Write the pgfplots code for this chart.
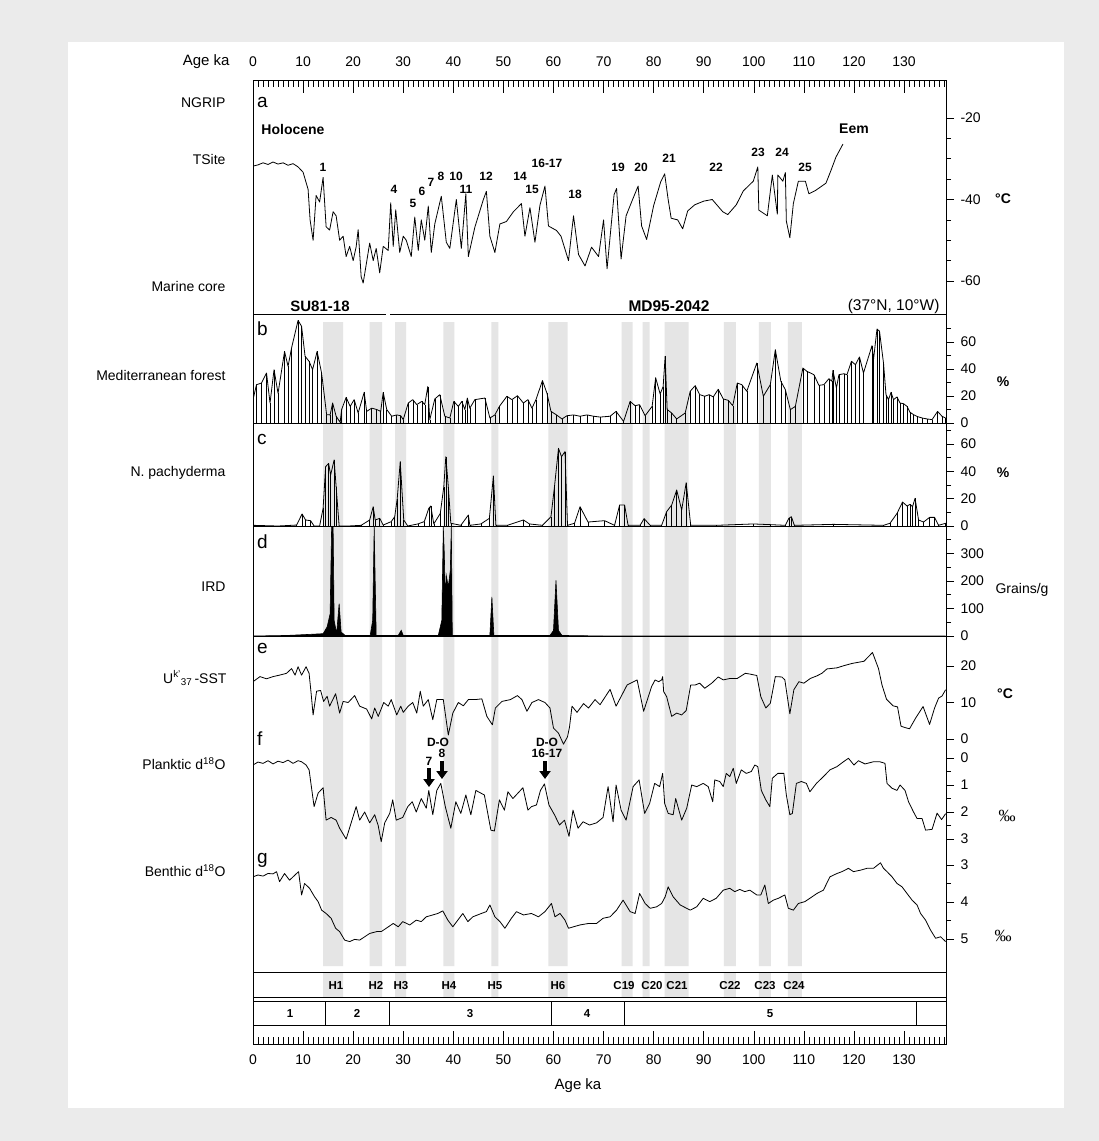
\documentclass[border=0pt]{standalone}
\usepackage{fontspec}
\setmainfont{Liberation Sans}
\newfontfamily\serif{Liberation Serif}
\usepackage{pgfplots}
\usepackage{pgfplotstable}
\pgfplotsset{compat=1.18}
\usetikzlibrary{arrows.meta}

\definecolor{outer}{RGB}{235,235,235}
\definecolor{band}{RGB}{229,229,229}
\newcommand{\fs}[1]{\fontsize{#1}{#1}\selectfont}

% b: Mediterranean forest (%)
\pgfplotstableread{
age v
0 17.3
0.7 28.4
1.7 29.6
2.7 37
3.4 14.8
4.2 39.5
5 22
6.3 53
7 42
7.7 55.6
9 76
9.7 71.6
10.4 49.4
11.2 45.7
11.9 39.5
12.8 53
13.7 37
14.7 6.2
15.4 6
15.9 14.8
16.6 5
17.4 0.5
17.7 10
18.6 19
19.4 12.3
20.2 17.3
21 7.4
22.2 22.7
22.7 8.6
23.7 11
24.7 10
25.5 8.6
26 22.7
26.7 10
27.7 5
28.7 6
29.5 5.4
30 2.5
31 14.8
31.9 17.3
32.7 13.6
33.7 16
34.3 13.6
34.9 27
35.3 2.5
36.3 17.8
37.3 21
38.3 5
39.3 3.7
40.1 16
41 12.3
41.7 16
42.3 10
42.8 18.5
43.3 11
44.3 17.3
46.3 18.5
47.3 3.7
48.3 6
49.2 12.3
50.7 19.8
51.7 17.3
52.8 20.2
54 14.8
54.9 17.3
55.7 11
56.5 17.3
57.8 31.4
58.7 22
59.5 8.6
60.6 6
61.7 3
62.7 5.4
64 6
65.3 5
66.7 6
68 5
69.3 4.4
71.3 5
72.5 8.6
74 1.2
75.3 16
76.3 12.8
77.2 13.6
78.3 5.4
79.7 12.3
80.4 33.5
81.3 21.5
81.9 27
82.3 49.4
82.7 10
83.6 7.4
84.6 3
86.3 7.4
87.3 23.5
88.3 27.7
89.2 21
90.2 19.8
91.1 21
91.9 19.3
92.9 25
93.9 17.8
94.9 16.8
95.8 12.8
96.7 29.6
97.6 28.4
98.6 23.5
100.6 44.4
101.9 19.8
103.3 28.4
104.3 54.3
105.4 30.9
106.3 24.7
107.3 9.9
108.3 12.3
109.8 40.7
110.6 38.3
112 35.8
113 27.9
114 28.4
115 32.8
115.6 30.9
115.8 39
116.5 25.9
117 35.8
118 36.5
118.6 35.8
119.5 45.7
120.3 43.2
121.1 48.9
121.9 37
123.6 57.3
123.9 46.9
124.6 69.6
125.1 68
125.9 44.4
126.4 21
126.9 17.3
127.4 22.7
127.9 17.3
128.6 19.3
129.2 14.8
129.9 14.3
130.6 12.3
131.2 7.9
131.9 6.2
132.6 4.9
133.6 3.7
134.6 3
135.6 2.5
136.7 8.6
137.6 4.9
138.3 3.7
}\medfor

% c: N. pachyderma (%)
\pgfplotstableread{
age v
0 0.5
5 0
8.7 0.7
9.8 8.8
10.5 4.4
11.5 3.9
12.2 0
13.3 0
14 12.9
14.5 43.3
15.1 45.7
15.5 37.2
16.2 48.2
16.6 28.7
17.2 0
19 0
21.6 0.5
23.3 4.4
24 14.1
24.4 4.4
25.3 5.6
26 0.7
27.6 3.2
28.3 6.8
28.8 20
29.4 47
30.1 4.4
30.9 0
32.9 1.5
34.2 3.2
35.1 12.9
35.5 14.6
36.1 1.5
37.4 9.2
38.1 28.7
38.5 50.6
39 28.7
39.5 2
41.5 0.5
43 8
43.3 0.5
45.5 1.5
47.2 5.6
48 36.5
48.5 0.5
50.8 0.5
54 4.4
55.2 1.5
57.8 0.5
59.5 6.8
60.2 28.7
61 56.7
61.6 50.6
62.3 54.3
62.8 0.5
64.2 2
65.3 14.1
66.9 2.9
70.2 3.9
72.2 0.5
73.2 15.3
74.2 15.3
74.9 0.5
77.3 0.5
78.1 5.4
79.3 0.5
81.6 0.5
82.6 10.5
83.6 15.3
84.6 26.3
85.6 11.7
86.5 31.6
87.4 0.5
92.6 0.5
99.9 1.5
103.3 1
106.3 0.5
107 5.6
107.5 6.8
108.1 0.5
115.9 1.2
125.9 0.5
127.2 2
128.6 9.2
129.7 17.5
130.6 14.6
131.2 15.8
131.7 14.1
132.2 20.2
132.9 4.4
133.9 2.9
135.1 6.3
136.1 6.3
136.9 0.5
138.3 2
}\pachy

% d: IRD (grains/g)
\pgfplotstableread{
age v
0 0
6.7 2
11.4 6
14 8.5
14.8 33
15.4 81
15.7 396
16 396
16.2 57
16.7 8.5
17.2 118
17.6 14.5
18.4 2
23.4 2
23.9 57
24.2 396
24.6 2
29 2
29.6 20.6
30 2
37 2
37.7 57
38 396
38.2 300
38.4 130
38.6 220
39 178
39.4 239
39.6 396
39.8 2
47.3 2
47.7 142
48.1 2
59.3 2
60 20
60.5 202
61 20
61.7 2
70 0
138.3 0
}\ird

\pgfplotsset{
  panel/.style={
    scale only axis, width=693pt, anchor=north west,
    xmin=0, xmax=138.38,
    axis x line=none, axis y line*=right,
    tick align=outside, major tick length=8pt, minor tick length=5pt,
    tick style={black, line width=0.6pt},
    axis line style={black, line width=0.8pt},
    yticklabel style={font=\fs{14}, xshift=3pt},
    /pgf/number format/assume math mode=true,
  },
  trace/.style={black, line width=0.8pt, line join=round},
}

\begin{document}
\begin{tikzpicture}
\useasboundingbox (0,0) rectangle (1099pt,-1141pt);
\fill[outer] (0,0) rectangle (1099pt,-1141pt);
\fill[white] (68pt,-42pt) rectangle (1064pt,-1108pt);

% frame: top and bottom age rulers, bands, boxes
\begin{axis}[
  scale only axis, width=693pt, height=964pt,
  at={(253pt,-80pt)}, anchor=north west,
  xmin=0, xmax=138.38, ymin=80, ymax=1044, y dir=reverse,
  xtick={0,10,...,130}, minor xtick={0,1,...,138}, xtick pos=both,
  xticklabels=\empty, ytick=\empty,
  tick align=inside, major tick length=13pt, minor tick length=7pt,
  tick style={black, line width=0.6pt},
  axis line style={black, line width=0.8pt},
  clip=false,
]
\fill[band] (axis cs:14.0,322) rectangle (axis cs:18.0,966) (axis cs:14.0,972) rectangle (axis cs:18.0,997);
\fill[band] (axis cs:23.3,322) rectangle (axis cs:25.8,966) (axis cs:23.3,972) rectangle (axis cs:25.8,997);
\fill[band] (axis cs:28.4,322) rectangle (axis cs:30.6,966) (axis cs:28.4,972) rectangle (axis cs:30.6,997);
\fill[band] (axis cs:38.0,322) rectangle (axis cs:40.2,966) (axis cs:38.0,972) rectangle (axis cs:40.2,997);
\fill[band] (axis cs:47.6,322) rectangle (axis cs:49.0,966) (axis cs:47.6,972) rectangle (axis cs:49.0,997);
\fill[band] (axis cs:59.0,322) rectangle (axis cs:62.8,966) (axis cs:59.0,972) rectangle (axis cs:62.8,997);
\fill[band] (axis cs:73.6,322) rectangle (axis cs:75.8,966) (axis cs:73.6,972) rectangle (axis cs:75.8,997);
\fill[band] (axis cs:77.8,322) rectangle (axis cs:79.2,966) (axis cs:77.8,972) rectangle (axis cs:79.2,997);
\fill[band] (axis cs:82.2,322) rectangle (axis cs:87.0,966) (axis cs:82.2,972) rectangle (axis cs:87.0,997);
\fill[band] (axis cs:94.0,322) rectangle (axis cs:96.4,966) (axis cs:94.0,972) rectangle (axis cs:96.4,997);
\fill[band] (axis cs:101.0,322) rectangle (axis cs:103.4,966) (axis cs:101.0,972) rectangle (axis cs:103.4,997);
\fill[band] (axis cs:106.8,322) rectangle (axis cs:109.6,966) (axis cs:106.8,972) rectangle (axis cs:109.6,997);
\draw[line width=0.8pt] (axis cs:0,314) -- (axis cs:26.6,314) (axis cs:27.4,314) -- (axis cs:138.38,314);
\draw[line width=0.8pt] (axis cs:0,423) -- (axis cs:138.38,423);
\draw[line width=0.8pt] (axis cs:0,526) -- (axis cs:138.38,526);
\draw[line width=0.8pt] (axis cs:0,636) -- (axis cs:138.38,636);
\draw[line width=0.8pt] (axis cs:0,972) rectangle (axis cs:138.38,997);
\draw[line width=0.8pt] (axis cs:0,1001) rectangle (axis cs:138.38,1025);
\draw[line width=0.8pt] (axis cs:14.4,1001) -- (axis cs:14.4,1025)
  (axis cs:27.2,1001) -- (axis cs:27.2,1025)
  (axis cs:59.6,1001) -- (axis cs:59.6,1025)
  (axis cs:74.2,1001) -- (axis cs:74.2,1025)
  (axis cs:132.4,1001) -- (axis cs:132.4,1025);
\end{axis}

% a: NGRIP temperature
\begin{axis}[panel, at={(253pt,-80pt)}, height=234pt,
  ymin=-68.1, ymax=-10.67,
  ytick={-60,-40,-20}, minor ytick={-55,-50,-45,-35,-30,-25}]
\addplot[trace] coordinates {
(0,-31.8)(1,-31.5)(2,-31.0)(3,-31.4)(4,-30.8)(5,-31.3)(6,-31.0)(7,-31.6)(8,-31.2)(9,-32.0)
(10,-33.3)(11,-37.5)(11.4,-45)(12,-50)(12.6,-39)(13.3,-40.6)(14,-34.6)(14.6,-46.7)(15.3,-47.5)
(16,-43)(16.6,-44)(17.3,-50)(18,-49)(18.6,-54)(19.3,-51.5)(20,-55)(20.6,-51.6)(21,-47.4)
(21.6,-59)(22,-60.5)(22.6,-56)(23.3,-50.7)(24,-55)(24.6,-52)(25.3,-58)(26,-51.5)(27,-52.5)
(27.5,-40.8)(28,-51.5)(28.5,-42.5)(29.3,-53)(30,-49)(30.6,-50)(31.6,-54)(32.3,-44.3)(33,-52.5)
(33.6,-45)(34.3,-50)(35,-41.6)(35.6,-53)(36.3,-46)(37.6,-39.2)(38.6,-50.5)(39.3,-52)(40.6,-40)
(41.6,-52)(42.5,-38.6)(43,-54)(44.3,-46.8)(46,-40)(46.6,-38)(47.3,-49)(48.3,-53)(49.3,-46)
(50.6,-45.4)(52,-43)(53.6,-41)(54.3,-49)(55.3,-42)(56.3,-50.5)(57.3,-41.4)(58.3,-36.7)(59,-46.5)
(60.6,-47.6)(61.5,-49)(63,-55)(64,-44)(65,-53.5)(66.3,-56.3)(67.6,-51.7)(69,-54)(70,-45)
(70.7,-57)(72.1,-38.8)(72.6,-37.3)(73.5,-54.6)(74.5,-44)(75.8,-40)(76.9,-36.7)(77.6,-46.5)
(78.6,-49.8)(80,-41.5)(81.4,-35.7)(82.2,-33.7)(82.9,-40)(83.5,-44.6)(84.8,-45)(85.8,-47.2)
(86.8,-42.8)(88.2,-41.3)(90,-40.4)(91.7,-40)(93.8,-43)(94.8,-43.7)(96.5,-41.3)(97.9,-37.9)
(99.9,-35.5)(100.8,-32)(101,-42.6)(102.7,-44)(103.7,-34)(104.7,-43.6)(104.8,-34)(105.8,-35.5)
(106.3,-33.4)(106.5,-45.3)(107.2,-49.4)(107.9,-41)(108.9,-35.5)(110.3,-35.5)(111,-38.6)
(112.3,-37.8)(114.4,-36)(115.4,-32.9)(116.4,-29.6)(117.8,-26.4)};
\end{axis}

% b: Mediterranean forest
\begin{axis}[panel, at={(253pt,-314pt)}, height=109pt,
  ymin=0, ymax=80.74, ytick={0,20,40,60}, minor ytick={10,30,50,70}]
\addplot[ycomb, black, line width=0.5pt] table[x=age,y=v] {\medfor};
\addplot[trace] table[x=age,y=v] {\medfor};
\end{axis}

% c: N. pachyderma
\begin{axis}[panel, at={(253pt,-423pt)}, height=103pt,
  ymin=0, ymax=75.18, ytick={0,20,40,60}, minor ytick={10,30,50,70}]
\addplot[ycomb, black, line width=0.5pt] table[x=age,y=v] {\pachy};
\addplot[trace] table[x=age,y=v] {\pachy};
\end{axis}

% d: IRD
\begin{axis}[panel, at={(253pt,-526pt)}, height=110pt,
  ymin=0, ymax=400, ytick={0,100,200,300}, minor ytick={50,150,250,350}]
\addplot[fill=black, draw=black, line width=0.6pt] table[x=age,y=v] {\ird} \closedcycle;
\end{axis}

% e: alkenone SST
\begin{axis}[panel, at={(253pt,-636pt)}, height=109pt,
  ymin=-1.64, ymax=28.22, ytick={0,10,20}]
\addplot[trace] coordinates {
(0,15.7)(1.4,17.1)(2.7,16.5)(4,17.1)(5.3,17.5)(6.7,18)(7.7,19.3)(8.4,17.5)(9,19.8)(9.7,17.5)
(10.6,19.8)(11.2,18)(11.6,12.6)(12,6.6)(12.7,13.1)(13.5,13.3)(14.1,10.3)(14.8,11.7)(15.3,9)
(16.5,12.4)(17.3,7.1)(18,10.3)(19,10)(20.3,11.9)(21.3,9)(22.7,8.2)(23.7,5.5)(24.3,8.5)(25,6.2)
(26.1,10)(27,9)(27.6,10.8)(28.7,6.6)(29.5,9)(30,7.3)(31,9)(31.9,10)(32.7,7.1)(33.4,13.1)(34,9)
(35,10.8)(35.9,5.3)(36.7,10.8)(38,10.8)(39,1.1)(39.9,7.1)(41,10)(42,9.1)(43,10.8)(44.3,10.8)
(45.7,11)(46.7,6.2)(47.8,3.9)(48.4,8.5)(49.7,10.3)(51.4,10.8)(52.8,11.9)(53.7,10.8)(54.7,7.6)
(55.7,10)(57,10.8)(58.3,10)(59.3,8.5)(60,3)(61,1.6)(62,-1.4)(62.8,0.6)(63.2,3.3)(63.7,9)
(64.7,7.3)(66,9.7)(67,8.5)(68.3,10.8)(69.3,9.4)(71.3,13.6)(72.5,9)(74.7,14.8)(76.7,16.2)(78,7.6)
(79.6,14.4)(80.3,16.2)(81,15.7)(81.6,16.2)(81.8,17.1)(82,13)(82.6,11.6)(83.6,6.2)(84.6,7.1)
(85.6,6.6)(86.5,7.8)(87.4,14.8)(88.3,14.8)(89.2,15.3)(90.2,13.9)(91.6,15.3)(92.9,17)(93.9,16.2)
(95.3,16.6)(96.7,16.6)(98.3,18)(99.2,17.8)(100.6,17.4)(101.4,11.6)(102.4,8.5)(103.3,9.8)
(104.3,17.1)(105.6,17)(106.2,16.2)(107.2,6.9)(108,13.5)(109,15.7)(110,15.3)(111.3,16.6)
(112.6,17.3)(113.6,18)(114.6,19.2)(116.6,19.5)(118,20.1)(119.6,20.7)(122,21.3)(123.7,23.7)
(124.9,19.3)(125.6,14.8)(126.5,10.9)(127.8,9.1)(128.7,8.8)(129.4,3.5)(130.3,3.1)(131.1,2.8)
(132.3,5.7)(133.8,8.9)(135.1,4)(136.1,8.5)(136.9,11.2)(137.6,11.8)(138.3,13.5)};
\end{axis}

% f: planktic d18O
\begin{axis}[panel, at={(253pt,-745pt)}, height=100pt, y dir=reverse,
  ymin=-0.48, ymax=3.22, ytick={0,1,2,3}, minor ytick={0.5,1.5,2.5}]
\addplot[trace] coordinates {
(0,0.26)(1,0.15)(2,0.2)(3,0.1)(4,0.22)(5,0.12)(6,0.17)(7,0.08)(8,0.2)(9,0.1)(9.7,0.14)
(10.6,0.26)(11.2,0.44)(12.2,1.8)(13,1.3)(14,1.1)(14.6,2.3)(15.6,2.2)(16.6,2.3)(17.3,2.6)
(18.6,3.0)(19.6,2.4)(20.6,1.8)(21.3,2.3)(22.3,2.0)(23.3,2.4)(24.3,2.1)(25,2.5)(25.6,3.1)
(26.3,2.4)(27.3,2.05)(27.9,1.55)(28.6,2.3)(29.9,2.2)(30.9,1.8)(31.8,1.62)(32.6,2.0)(33.6,1.5)
(34.6,1.86)(35.1,1.2)(35.9,2.1)(36.7,1.2)(37.5,0.94)(38.4,1.8)(39.5,2.6)(40.5,1.62)(41.5,2.05)
(42.5,1.37)(43.5,2.1)(44.5,1.2)(46.2,1.37)(47.5,2.67)(48.2,2.7)(49.2,1.55)(50.2,1.93)
(50.9,1.25)(51.9,1.5)(52.9,1.3)(53.9,1.1)(54.9,1.93)(55.6,1.8)(56.6,1.74)(57.4,1.2)(58.2,0.96)
(59.1,1.74)(60.2,2.1)(61.2,2.48)(62.2,2.3)(63.1,2.9)(63.9,1.93)(64.9,2.6)(65.9,2.36)(67.2,2.48)
(68.6,2.4)(69.9,2.2)(70.9,1.06)(71.9,2.36)(72.5,1.0)(73.5,1.93)(74.5,2.3)(75.9,1.06)(77.1,0.81)
(78.2,2.05)(79.2,1.68)(80.2,0.94)(81.2,1.06)(81.8,0.57)(82.2,1.68)(82.9,2.05)(83.9,2.1)
(84.4,1.5)(85.6,2.3)(86.6,1.86)(87.6,1.0)(88.6,1.06)(89.9,0.94)(90.9,1.06)(91.8,1.62)(92.2,0.81)
(93.2,0.87)(93.9,1.06)(94.5,0.57)(95.2,0.69)(95.9,0.38)(96.5,0.94)(97.5,0.44)(98.5,0.57)
(99.5,0.5)(100.2,0.26)(100.8,0.32)(101.5,1.2)(102.4,1.55)(103.2,1.8)(103.7,0.75)(104.8,0.57)
(106,0.57)(106.5,1.37)(107.2,2.1)(107.7,2.05)(108.5,0.94)(109.5,0.87)(110.5,0.94)(111.2,1.25)
(112.5,0.94)(113.9,0.69)(115.2,0.44)(116.6,0.32)(117.9,0.14)(118.9,0.01)(120,0.26)(120.9,0.1)
(122.2,0.22)(123.9,0.14)(125.2,0.14)(126.2,0.2)(126.6,0.94)(127.6,1.12)(128.6,1.2)(129.2,1.0)
(130.2,1.2)(130.9,1.62)(131.9,2.0)(132.6,2.24)(133.6,2.24)(134.3,2.67)(135.6,2.64)(136.6,2.04)
(137.5,2.28)(138.3,2.06)};
\end{axis}

% g: benthic d18O
\begin{axis}[panel, at={(253pt,-845pt)}, height=121pt, y dir=reverse,
  ymin=2.46, ymax=5.73, ytick={3,4,5}, minor ytick={3.5,4.5}]
\addplot[trace] coordinates {
(0,3.32)(1,3.27)(2,3.3)(3,3.23)(4,3.24)(4.7,3.18)(5.3,3.45)(6.3,3.23)(7.3,3.41)(8.7,3.23)
(9.1,3.18)(9.7,3.81)(10.3,3.5)(11.3,3.63)(12.3,3.86)(13,3.99)(13.7,4.22)(14.6,4.31)(15.6,4.44)
(16.5,4.71)(17.3,4.8)(18.3,5.03)(19.3,5.07)(20.3,5.01)(21.3,5.03)(22.3,4.94)(23.3,4.85)
(24.7,4.8)(25.6,4.8)(26.6,4.71)(28,4.58)(29,4.67)(29.9,4.53)(31.3,4.62)(32.6,4.49)(33.6,4.53)
(34.6,4.4)(35.9,4.35)(36.9,4.31)(37.9,4.24)(38.9,4.49)(39.9,4.67)(40.9,4.49)(41.9,4.31)
(42.9,4.53)(43.9,4.4)(45.6,4.31)(46.6,4.26)(47.3,4.08)(48.3,4.4)(49.3,4.53)(50.3,4.71)
(51.6,4.44)(52.6,4.26)(54,4.35)(55.6,4.31)(57,4.4)(58.3,4.26)(59.6,4.04)(60.3,4.4)(61.3,4.31)
(62.3,4.49)(63,4.71)(64,4.67)(65.3,4.62)(67,4.58)(68.6,4.58)(69.9,4.44)(71.3,4.4)(72.6,4.22)
(73.9,3.95)(75.3,4.26)(76.3,4.31)(77.2,3.77)(78.3,4.04)(79.3,4.17)(80.6,4.13)(81.6,4.04)
(82.3,3.86)(82.9,3.59)(83.9,3.86)(85.3,4.08)(87.3,4.22)(88.6,4.13)(89.9,3.9)(91.2,3.99)
(92.5,3.9)(93.9,3.68)(95.2,3.63)(96.2,3.72)(97.2,3.66)(98.2,3.72)(99.2,3.68)(100.6,3.81)
(101.4,3.81)(102.2,3.54)(102.9,4.04)(103.9,3.95)(104.9,3.9)(106.2,3.81)(106.9,4.17)(107.9,4.22)
(108.9,4.04)(110.2,3.99)(111.2,3.9)(112.6,3.77)(113.9,3.68)(115.2,3.32)(116.6,3.23)(117.6,3.18)
(118.9,3.09)(119.9,3.18)(121.3,3.14)(122.6,3.09)(123.9,3.09)(125.3,2.94)(125.9,3.09)(126.6,3.18)
(127.6,3.32)(128.6,3.5)(129.6,3.59)(130.6,3.77)(131.6,3.95)(132.6,4.08)(133.3,4.31)(134.3,4.49)
(135.3,4.76)(136.3,4.98)(137.3,4.94)(138.3,5.07)};
\end{axis}

% age labels
\node[anchor=east, font=\fs{15}] at (233pt,-62pt) {Age ka};
\foreach \a in {0,10,...,130} {
  \node[font=\fs{14}] at ({(253+5.008*\a)*1pt},-62pt) {\a};
  \node[font=\fs{14}] at ({(253+5.008*\a)*1pt},-1060pt) {\a};
}
\node[font=\fs{15}] at (578pt,-1086pt) {Age ka};

% left labels
\foreach \y/\t in {103/NGRIP, 159/TSite, 286/Marine core, 375/Mediterranean forest,
  473/N. pachyderma, 587/IRD, 764/Planktic d\textsuperscript{18}O, 871/Benthic d\textsuperscript{18}O}
  \node[anchor=east, font=\fs{14}] at (229pt,{-\y*1pt}) {\t};
\node[anchor=east, font=\fs{14}] at (230pt,-678pt) {U\textsuperscript{k'}\textsubscript{37}\,-SST};

% panel letters
\foreach \y/\t in {107/a, 335/b, 444/c, 548/d, 653/e, 745/f, 863/g}
  \node[anchor=base west, font=\fs{19}, inner sep=0pt] at (257pt,{-\y*1pt}) {\t};

% units
\node[font=\bfseries\fs{14}] at (1003pt,-199pt) {°C};
\node[font=\bfseries\fs{14}] at (1003pt,-382pt) {\%};
\node[font=\bfseries\fs{14}] at (1003pt,-473pt) {\%};
\node[font=\fs{14}] at (1022pt,-590pt) {Grains/g};
\node[font=\bfseries\fs{14}] at (1005pt,-694pt) {°C};
\node[font=\serif\fs{17}] at (1007pt,-816pt) {‰};
\node[font=\serif\fs{17}] at (1003pt,-936pt) {‰};

% panel a annotations
\node[font=\bfseries\fs{14}] at (293pt,-129pt) {Holocene};
\node[font=\bfseries\fs{14}] at (854pt,-129pt) {Eem};
\foreach \x/\y/\t in {323/167/1, 394/189/4, 413/203/5, 422/191/6, 431/182/7, 441/176/8,
  456/176/10, 466/189/11, 486/176/12, 520/176/14, 532/189/15, 547/163/16-17, 575/194/18,
  618/167/19, 641/167/20, 669/158/21, 716/167/22, 758/152/23, 782/152/24, 805/167/25}
  \node[font=\bfseries\fs{12}] at ({\x*1pt},{-\y*1pt}) {\t};
\node[font=\bfseries\fs{15}] at (320pt,-306pt) {SU81-18};
\node[font=\bfseries\fs{15.5}] at (669pt,-306pt) {MD95-2042};
\node[anchor=east, font=\fs{15.5}] at (943pt,-306pt) {(37°N, 10°W)};

% D-O arrows
\node[font=\bfseries\fs{12}] at (438pt,-742pt) {D-O};
\node[font=\bfseries\fs{12}] at (442pt,-753pt) {8};
\node[font=\bfseries\fs{12}] at (429pt,-761pt) {7};
\node[font=\bfseries\fs{12}] at (547pt,-742pt) {D-O};
\node[font=\bfseries\fs{12}] at (547pt,-753pt) {16-17};
\draw[-{Triangle[width=11pt,length=8pt]}, line width=3.5pt] (429pt,-768pt) -- (429pt,-787pt);
\draw[-{Triangle[width=11pt,length=8pt]}, line width=3.5pt] (442pt,-761pt) -- (442pt,-779pt);
\draw[-{Triangle[width=11pt,length=8pt]}, line width=3.5pt] (545pt,-761pt) -- (545pt,-779pt);

% event and stage labels
\foreach \x/\t in {336/H1, 376/H2, 401/H3, 449/H4, 495/H5, 558/H6, 624/C19, 652/C20,
  677/C21, 730/C22, 765/C23, 794/C24}
  \node[anchor=base, font=\bfseries\fs{11.5}, inner sep=0pt] at ({\x*1pt},-989pt) {\t};
\foreach \x/\t in {290/1, 357/2, 470/3, 587/4, 770/5}
  \node[anchor=base, font=\bfseries\fs{11.5}, inner sep=0pt] at ({\x*1pt},-1017pt) {\t};
\end{tikzpicture}
\end{document}
